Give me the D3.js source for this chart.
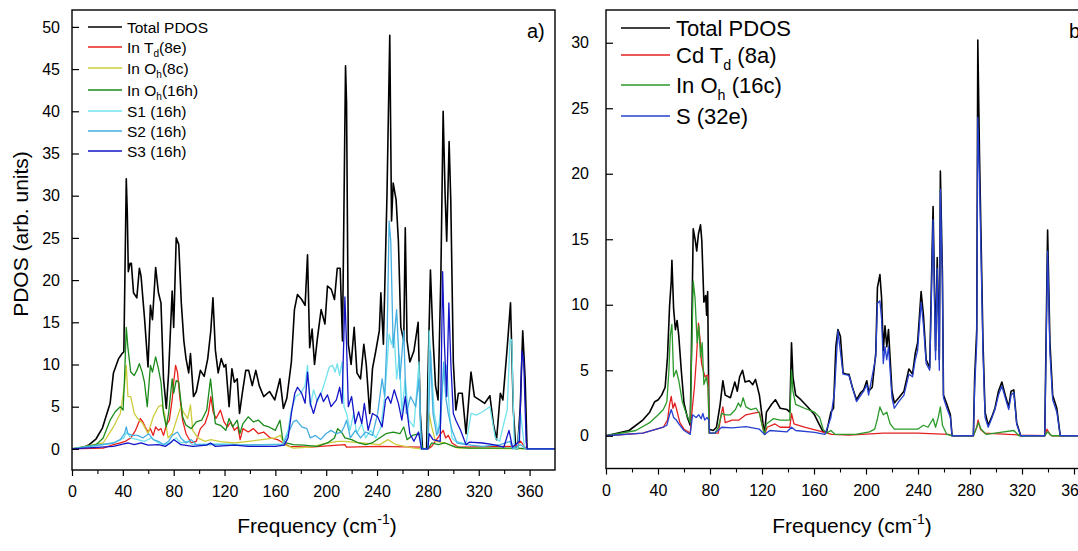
<!DOCTYPE html>
<html>
<head>
<meta charset="utf-8">
<script src="https://cdn.jsdelivr.net/npm/d3@7"></script>
<style>
  body { margin: 0; background: #fff; }
  svg { font-family: "Liberation Sans", Arial, sans-serif; }
</style>
</head>
<body>
<svg id="canvas" width="1078" height="551"></svg>
<script>
// ---- panel a) data : [frequency (cm-1), PDOS] ----
let totalA = [[0,0],[8,0.1],[13.6,0.5],[19,1.2],[24,2.5],[30,5.4],[32.6,9],[36.7,10.7],[39.4,11.3],[40.8,11.5],[42.7,32],[43.5,28],[44.3,21],[45.7,22],[46.7,22],[48.4,18.5],[51,17.9],[53,21.4],[54.3,20.5],[57,15.6],[59.8,9.7],[61.7,17],[63.3,15.3],[65.8,21.5],[68,18.5],[70,17.3],[72,8.3],[74.2,4.8],[76,9],[78.8,18.7],[80,14.4],[82,25],[84,24.2],[86,17.3],[88,12.8],[89.7,10.7],[91.8,9],[93.2,11.3],[95.6,6.2],[97.8,6.8],[101,9.3],[104,8.6],[106.8,10.7],[109.2,14],[110.9,17.9],[112.8,11.7],[115,9],[117.4,10.7],[119.6,9.7],[121,10],[123.6,5],[125.8,9.5],[127.7,7.9],[130,8.3],[131.8,4.2],[134,6.6],[136.7,9.3],[139,9.3],[141.8,7.5],[144.6,9.3],[147.3,7.5],[150.8,6.2],[155.4,6.8],[159.5,5.8],[163.6,8.3],[166.3,4.8],[169,6],[172.6,10.3],[175,16.5],[177.4,18.3],[180.7,17.7],[183.4,17],[185.3,23],[187,12],[188.9,14.2],[190.8,10],[193,13],[196,16.5],[199,14.8],[201,19.3],[204,18.9],[206.5,17.7],[208.7,21.4],[211,21.4],[212.8,12.8],[215.2,45.4],[216,41],[217.4,12.4],[219.6,10],[222,14.4],[224.2,9],[227,8.3],[229.6,12.4],[231.5,10],[234.2,4.2],[236.4,9.5],[239,11.6],[241.8,14],[243,18.5],[245,12.4],[247.8,30],[250,49],[251.4,27],[252.7,31.5],[255,29.5],[256.8,24.6],[258.7,14.4],[261,12.8],[262.2,26.2],[263.6,12.8],[265.8,10.3],[269,11.6],[272.3,15],[274,4.2],[275.8,0],[279,0],[280,8.3],[282,21.2],[284,13.2],[286,7.5],[288,5.8],[290.2,20.5],[292,40],[293.5,30.3],[294.8,24.6],[296.7,36.4],[298,29.5],[300,10.3],[302,4.6],[304,6.6],[307,6.6],[310,1.8],[313.9,9.1],[316.6,6.2],[320.6,5.8],[324.7,5.4],[328.8,6.3],[331.5,3],[334,1.1],[337,6.6],[339,5.8],[342.4,12],[345,17.3],[347.2,4.6],[349.2,0],[350.5,0],[352.7,5],[354.6,14],[356.5,8.3],[358,0],[380,0]]

let inTd8e = [[0,0],[24.5,0.1],[32.6,0.5],[38,0.7],[42,0.9],[46.2,1.3],[50,2.2],[53.8,3.6],[55.7,3.2],[57.6,2.6],[59.8,2],[61.7,2.4],[63.9,1.6],[65.8,2.6],[68,2.2],[70,2.4],[72,1.6],[74.2,2.8],[76.6,3.4],[78.8,5.8],[80,7.9],[81.5,9.9],[83,9.1],[84.8,6.2],[87,3.4],[89.7,1.8],[93.8,0.7],[97.8,0.9],[101,2.4],[104.6,3],[107.3,4.2],[109.2,6.2],[111,4.4],[113.3,3.6],[116.8,4.6],[119.6,3.2],[122.3,2.6],[125,3.2],[127.7,2.2],[130.4,2.6],[132.3,1.1],[134.5,2.4],[138.6,2],[142.7,2.4],[146.7,1.8],[150.8,2],[156,1.3],[161.7,1.1],[166.3,0.7],[171,0.3],[187.5,0.2],[214.7,0.5],[216,0.2],[242,0.3],[275,0.2],[276,0],[280,0],[283,0.3],[292,2.2],[294,1.3],[296,1.6],[299,0.7],[304,0.2],[348,0.3],[350.5,0.5],[353,0.9],[357,0.1],[358,0],[380,0]]

let inOh8c = [[0,0],[24.5,0.7],[32.6,2.6],[38,4.2],[41.3,7.5],[42.7,9.9],[44,6.2],[46.2,6.2],[49,4.2],[51.6,3.6],[55.7,3],[59.8,1.8],[63.9,3.8],[68,5],[70.7,5.2],[72.8,4.2],[75.5,1.3],[78.8,1.8],[83,3.8],[85.6,5],[88.3,4.2],[91,3.6],[93.2,5.2],[95,2.2],[99,1.3],[104.6,0.9],[109.2,1.1],[116.8,0.85],[127.7,0.7],[138.6,0.9],[149.5,1.1],[160,1.3],[164,1.6],[167,0.5],[174,0.1],[187.5,0.2],[201,0.7],[209,0.9],[214.7,0.9],[228,0.7],[242,0.5],[248.6,1.1],[255,0.5],[269,0.1],[275,0],[280,0],[281,4.2],[283,2.6],[286,0.9],[293.5,0.7],[304,0.1],[358,0],[380,0]]

let inOh16h = [[0,0],[19,0.5],[24.5,1.3],[30,3.4],[34,4.4],[38,5],[40.2,4.6],[41.3,8.3],[42.7,14.4],[44,12],[46.2,9.1],[49,8.7],[51,9.3],[53,10.1],[55.2,9.1],[57,7.9],[59.2,5],[61.7,9.9],[63.3,9.1],[65.8,10.9],[68,9.5],[70,7.9],[72,4.2],[74.2,2.6],[76,4.2],[78.8,8.3],[80,6.6],[82,8.1],[84,7.9],[87,3.8],[89.7,2.8],[93.8,2.4],[97.8,3.2],[102,3.4],[106,4.6],[109,8.3],[111,5.4],[112.8,3],[116.8,2.8],[121,2.2],[123.6,3.6],[126.4,2.6],[130,3.4],[132,1.8],[134.5,3],[138.6,3.8],[142.7,3.2],[146.7,3.4],[150.8,2.8],[155,2.6],[160,2.2],[163.6,3.4],[165.8,1.1],[168.5,0.7],[174,0.5],[182,0.45],[193,0.3],[201,0.7],[206.5,1.3],[209,2.4],[212,2],[214.7,1.3],[220,1.1],[225.5,0.7],[231,0.5],[236,0.7],[242,1.3],[247,1.8],[252.7,2],[258,1.8],[261,2.6],[263.6,1.1],[268,1.6],[273,1.8],[276,0],[280,0],[283,0.7],[288,0.5],[293.5,0.7],[301.6,0.2],[312.5,0.1],[350.5,0.1],[358.7,0],[380,0]]

let s1 = [[0,0],[32.6,0.7],[40.8,1.3],[43,2],[46.2,1.3],[51.6,1.1],[57,0.9],[62.5,1.3],[68,0.7],[73.4,0.5],[78.8,0.9],[82,1.3],[85.6,0.7],[91,0.9],[95,0.5],[106,0.6],[119.6,0.6],[133,0.5],[149.5,0.5],[165.8,0.6],[170,2.2],[172.6,4.6],[176,6.2],[180,6.6],[183.4,7.5],[185.3,9.9],[187.5,5],[190,7],[193,5.6],[197,7],[199.7,8.3],[202.4,9.7],[205,9.9],[207,9.1],[208.7,10.1],[210.6,8.7],[212.5,10.3],[214,5],[216,4.2],[218.8,2.2],[221.5,4.2],[224,1.8],[228,3],[231,1.3],[235,2.2],[239,1.3],[243,2.6],[246,6.2],[248,10.3],[249.5,13.6],[251.4,12.4],[253.5,13.6],[255.4,8.3],[257.6,11.1],[259.5,4.2],[262.2,8.3],[265,3.4],[269,2.6],[273,10.3],[274.5,0],[280,0],[281,14],[285,4.2],[288,1.8],[290.2,5],[292.4,9.1],[294.8,9.9],[297,4.2],[299,1.3],[301.6,0.9],[307,0.7],[310,0.6],[314,4.2],[318,4],[323,4.4],[328.8,5],[333,1.3],[336.4,0.9],[339.7,3],[342.4,4.6],[344.6,13],[346,12.9],[348,0],[350.5,0],[353,4.2],[356,0.1],[358,0],[380,0]]

let s2 = [[0,0],[32.6,0.7],[38,1.1],[41.3,1.8],[42.7,2.6],[44,1.8],[47.5,1.6],[51.6,1.6],[55.7,1.3],[60.3,1.8],[63.9,1.1],[68,0.9],[72,0.5],[76,0.9],[78.8,1.6],[83,2],[85.6,1.3],[89.7,0.7],[93.8,1.1],[97.8,0.5],[106,0.5],[133,0.45],[165.8,0.5],[170,1.8],[174,3.2],[176.6,3.4],[180.7,2.6],[184.8,2.4],[187.5,1.3],[191.6,1.6],[195.6,1.1],[199.7,1.8],[203.8,2.2],[208,1.8],[212,2],[214,2.6],[216,3.4],[219,1.3],[223,2.2],[227,1.3],[231,2],[236.4,1.6],[240.5,4.2],[244,8.3],[246,6.2],[248,14],[249.5,27],[250.8,24.6],[252.7,12],[255.4,16.5],[258,8.3],[261,14],[263,4.2],[266.3,6.2],[270.4,5],[273,8.3],[275,0],[280,0],[282,11.6],[284,4.2],[287,1.6],[290,3],[292.4,10.3],[294,6.2],[296,4.2],[299,2.2],[303,0.7],[310,0.5],[323,0.3],[337,0.5],[344.6,0.9],[346.5,0],[353,0.5],[357,0],[380,0]]

let s3 = [[0,0],[32.6,0.3],[40.8,0.6],[44,0.7],[49,0.5],[54.3,0.7],[59.8,0.45],[68,0.5],[73.4,0.3],[77.4,0.7],[80,1.1],[82,0.9],[85.6,0.5],[95,0.3],[106,0.45],[109,0.7],[112.8,0.3],[127.7,0.45],[138.6,0.3],[160,0.3],[167,0.45],[170,1.3],[172.6,4.2],[175.3,6.6],[177.4,7.3],[180.7,6.6],[183.4,5.4],[185.3,9.1],[187.5,5.4],[190,4.2],[193,5.8],[195.6,6.6],[197.8,5.6],[201,6.4],[203.8,5],[208,5.8],[210.6,7.3],[212.5,5.4],[214.7,18],[216,12.4],[217.4,5],[220,6.2],[222.8,3],[225.5,4.4],[228,3],[230,5.4],[233,2.2],[236.4,4.2],[240.5,3.8],[244,2.6],[246.7,5.8],[248.6,6.2],[250.8,5.4],[253.5,7],[256.8,5.4],[259.5,3.4],[262.2,6.2],[265.8,1.8],[269,0.9],[272.6,2],[275,0],[280,0],[281,1.8],[284,1.1],[289.7,0.9],[291.6,21],[293,12.4],[294.8,6.2],[296.5,17.3],[298,10.3],[300,4.2],[302,3.4],[305.7,2.2],[310,0.5],[312.5,0.8],[323,0.7],[331.5,0.5],[339.7,0.2],[343.8,2.2],[346.5,0.2],[352,0.9],[354,11.6],[355.4,10.3],[357.3,0.9],[358,0],[380,0]]

// ---- panel b) data ----
let totalB = [[0,0],[17.7,0.4],[28.3,1.2],[33.6,1.8],[37.5,2.6],[40.2,2.75],[42.8,3.1],[45.5,3.7],[47.3,6],[48.9,9.9],[50.2,11.8],[50.7,13.4],[52,9.7],[53.4,8.1],[54.7,8.8],[56,7.6],[57.9,5],[60,2.5],[62.6,1.4],[64.8,0.8],[65.8,7.1],[67.1,15.8],[68.7,14.9],[69.8,14.1],[71.1,15.4],[72.7,16.1],[73.7,14.9],[75.3,10.2],[76.7,10.7],[77.4,9.2],[78.2,11],[79.3,0.5],[82.5,0.4],[85,0.65],[87.8,2.4],[89.9,4.2],[91.7,3.1],[95.7,2.9],[99.1,4.1],[101,3.4],[102.8,4.5],[105,5],[107,4.1],[110.2,4.2],[112.9,3.9],[115,4.3],[118,3.1],[120.8,0.9],[122,0.1],[123.4,1.8],[127.4,2.4],[130.3,2.75],[134,2.1],[139.3,2],[141.4,1.8],[142.7,7.1],[143.8,4.5],[145.9,3.1],[149.9,2.75],[155.2,2.2],[160.4,1.6],[164.4,0.8],[167,0.3],[169.7,0.3],[173,1.8],[175,2.1],[176.8,6.8],[178.4,8.1],[180.3,7.6],[182.4,4.8],[184.8,4.7],[186.9,4.7],[189.5,3.7],[192.7,2.75],[196,3.3],[198.2,3.5],[200.6,4.2],[202,3.4],[204.8,3.7],[207.5,6.3],[208.8,11.3],[210.7,12.3],[212,10.5],[213.3,6.5],[214.6,8.4],[216,6.8],[217.3,8.1],[220,3.4],[221.8,2.5],[225.2,2.9],[229.2,3.4],[233,5.1],[235.8,4.7],[237.9,6.3],[239.7,7.1],[242.4,11],[244.2,9.2],[246.3,5.8],[249,5.2],[250.3,11.5],[251.6,17.5],[253.5,6.5],[254.8,13.6],[256.4,5.8],[257.2,20.2],[258.8,12.3],[259.6,3.1],[262.2,2.4],[264.9,1.6],[266.2,0],[282.6,0],[283.6,4.5],[285.2,8.1],[286,30.2],[287.3,21.5],[290,7.1],[291.6,1.8],[294,0.8],[296.6,1.4],[299.2,2.1],[301.9,3.4],[304.5,4.1],[307.1,3.1],[309.8,2.2],[311.6,3.4],[313.7,3.5],[315.9,1],[319,0],[337.5,0],[338.3,5.8],[339.7,15.7],[341.5,7.1],[343.6,3.1],[346.8,2.1],[349.4,0],[380,0]]

let cdTd8a = [[0,0],[28.3,0.2],[38.9,0.5],[44.1,0.65],[47.3,1.2],[48.9,2.4],[50.2,3],[51.5,2.1],[52.9,2.5],[54.1,2.1],[56.8,1],[60,0.5],[64.8,0.2],[66.1,1.8],[68,3.7],[69.5,5.8],[71.1,8.6],[72.4,7.3],[73.5,5.5],[74.8,5],[76.1,4.5],[77.4,4.6],[78.5,4.6],[79.3,0.2],[86.4,0.2],[88.5,1.6],[89.9,2.2],[91.7,1],[97,1.2],[102.3,1.2],[107.6,1.6],[112.9,1.7],[118,1.8],[120.2,0.8],[122,0.1],[124,0.65],[130,0.9],[134,0.65],[141.4,0.65],[142.7,1.7],[144.6,0.9],[152.6,0.65],[163,0.4],[173.7,0.1],[187,0.05],[213.3,0.2],[239.7,0.2],[263.5,0.1],[266.2,0],[282.6,0],[285.2,0.65],[286.2,1.2],[288,0.5],[291.2,0.2],[319,0.05],[337.5,0],[339.2,0.5],[341.5,0.1],[343,0],[380,0]]

let inOh16c = [[0,0],[23,0.4],[33.6,1],[40.2,1.6],[44.1,2],[46.8,2.6],[48.4,5],[49.4,7.6],[50.7,8.5],[52,4.5],[54.1,5],[56,4.2],[58.7,2.6],[61.3,1.8],[64.8,1],[65.8,5.8],[67.1,11.8],[68.5,10.5],[70.1,7.1],[71.4,8.4],[72.7,6],[74,7.1],[75.3,3.9],[77.2,4.5],[78.5,3.7],[79.3,0.2],[83.8,0.2],[86.4,0.65],[89,1.7],[91.7,1.6],[95.7,1.6],[99.6,2],[101.8,2.5],[103.6,2.2],[105.5,2.9],[107.6,2.2],[111.5,2],[115.5,2.1],[118,1.7],[120.8,0.5],[122,0.1],[123.4,0.9],[128.7,1.3],[134,1.2],[141.4,1.2],[142.7,5],[143.8,3.4],[145.9,2.4],[152.6,2.1],[160.4,1.8],[164.4,1.4],[167,0.5],[169.7,0.2],[173,0.4],[176.3,0.1],[192,0.1],[202.7,0.3],[206.7,0.5],[208.8,1.3],[210.7,2.2],[213.3,1.6],[216,1.8],[218.6,0.9],[221.8,0.5],[239.7,0.5],[244.2,0.8],[247.7,0.65],[251.6,1.3],[253.5,0.65],[255.6,1.4],[257.2,2.2],[258.8,0.8],[262.2,0.1],[266.2,0],[282.6,0],[285.2,0.65],[286.5,1],[288.6,0.5],[292.6,0.1],[303.2,0.25],[313.7,0.4],[317.7,0],[337.5,0],[339.7,0.3],[342.8,0],[380,0]]

let s32e = [[0,0],[28.3,0.2],[38.9,0.5],[44.1,0.65],[46.8,0.8],[48.9,1.6],[50.2,2],[52,1.4],[54.1,1.2],[56,0.9],[60,0.4],[64.8,0.1],[66.6,1.6],[69.3,1.4],[71.4,1.6],[73.2,1.3],[74.5,1.7],[75.9,1.2],[77.7,1.4],[79,1.2],[79.8,0.2],[83.8,0.2],[89,0.65],[97,0.6],[107.6,0.7],[118,0.5],[122,0.1],[126,0.4],[139.3,0.3],[142.7,0.65],[145.9,0.4],[160.4,0.25],[168.4,0.1],[173,1.4],[175.8,3.4],[178.4,8],[182.4,4.7],[186.9,4.6],[192.7,2.6],[198.2,3.4],[200.6,3.9],[202,3.1],[207.5,6],[208.8,10.1],[210.7,10.3],[212,8.9],[213.3,5.5],[214.6,6.8],[216,5.8],[217.3,6.8],[220,2.9],[221.8,2.1],[225.2,2.6],[229.2,3.1],[233,4.7],[235.8,4.5],[237.9,5.8],[239.7,6.5],[242.4,10.2],[244.2,8.4],[246.3,5.5],[249,5],[250.3,10.5],[251.6,16.5],[253.5,5.8],[254.8,12.8],[256.4,5],[257.2,18.8],[258.8,11.5],[259.6,2.9],[262.2,2.1],[264.9,1.4],[266.2,0],[282.6,0],[283.6,3.7],[285.2,7.1],[286,24.3],[287.3,19.6],[290,6.3],[291.6,1.4],[294,0.65],[296.6,1.3],[299.2,2],[301.9,3.1],[304.5,3.8],[307.1,2.9],[309.8,2],[311.6,3.1],[313.7,3.3],[315.9,0.9],[319,0],[337.5,0],[338.3,5],[339.7,14.1],[341.5,6.3],[343.6,2.75],[346.8,1.8],[349.4,0],[380,0]]

let xTicks = [0, 40, 80, 120, 160, 200, 240, 280, 320, 360]
let yTicksA = [0, 5, 10, 15, 20, 25, 30, 35, 40, 45, 50]
let yTicksB = [0, 5, 10, 15, 20, 25, 30]

let legendA = [
  { name: 'Total PDOS', sub: null, tail: '', data: totalA, color: '#000000', w: 1.6 },
  { name: 'In T', sub: 'd', tail: '(8e)', data: inTd8e, color: '#e8201c', w: 1.3 },
  { name: 'In O', sub: 'h', tail: '(8c)', data: inOh8c, color: '#cdcd3c', w: 1.3 },
  { name: 'In O', sub: 'h', tail: '(16h)', data: inOh16h, color: '#1a8a1a', w: 1.3 },
  { name: 'S1 (16h)', sub: null, tail: '', data: s1, color: '#70e2ee', w: 1.3 },
  { name: 'S2 (16h)', sub: null, tail: '', data: s2, color: '#45aee0', w: 1.3 },
  { name: 'S3 (16h)', sub: null, tail: '', data: s3, color: '#1515c8', w: 1.3 }
]
let legendB = [
  { name: 'Total PDOS', sub: null, tail: '', data: totalB, color: '#000000', w: 1.6 },
  { name: 'Cd T', sub: 'd', tail: ' (8a)', data: cdTd8a, color: '#e32020', w: 1.3 },
  { name: 'In O', sub: 'h', tail: ' (16c)', data: inOh16c, color: '#2a9a2a', w: 1.3 },
  { name: 'S (32e)', sub: null, tail: '', data: s32e, color: '#2640d0', w: 1.3 }
]

let canvas = d3.select('#canvas')

let drawPanel = (cfg) => {
  let x = d3.scaleLinear().domain([0, 380]).range([cfg.left, cfg.right])
  let y = d3.scaleLinear().domain(cfg.yDomain).range([cfg.bottom, cfg.top])
  let g = canvas.append('g')

  let clipId = 'clip-' + cfg.id
  g.append('clipPath').attr('id', clipId)
    .append('rect')
    .attr('x', cfg.left).attr('y', cfg.top)
    .attr('width', cfg.right - cfg.left).attr('height', cfg.bottom - cfg.top)

  let line = d3.line().x(d => x(d[0])).y(d => y(d[1]))
  g.append('g').attr('clip-path', 'url(#' + clipId + ')')
    .selectAll('path')
    .data(cfg.series)
    .enter()
    .append('path')
    .attr('d', s => line(s.data))
    .attr('fill', 'none')
    .attr('stroke', s => s.color)
    .attr('stroke-width', s => s.w)
    .attr('stroke-linejoin', 'round')

  // frame
  g.append('rect')
    .attr('x', cfg.left).attr('y', cfg.top)
    .attr('width', cfg.right - cfg.left).attr('height', cfg.bottom - cfg.top)
    .attr('fill', 'none').attr('stroke', '#000').attr('stroke-width', 1.4)

  // x axis: major + minor ticks, outward
  let xAxis = d3.axisBottom(x).tickValues(xTicks).tickSize(6).tickSizeOuter(0).tickPadding(10)
  let gx = g.append('g').attr('transform', 'translate(0,' + cfg.bottom + ')').call(xAxis)
  gx.select('.domain').remove()
  gx.selectAll('text').attr('font-size', 16).attr('fill', '#000')
    .attr('font-family', '"Liberation Sans", Arial, sans-serif')
  gx.selectAll('line').attr('stroke-width', 1.2)
  let xMinor = d3.axisBottom(x).tickValues(d3.range(20, 380, 40)).tickSize(4).tickFormat('')
  let gxm = g.append('g').attr('transform', 'translate(0,' + cfg.bottom + ')').call(xMinor)
  gxm.select('.domain').remove()
  gxm.selectAll('line').attr('stroke-width', 1.1)

  // y axis: ticks inward
  let yAxis = d3.axisLeft(y).tickValues(cfg.yTicks).tickSize(-7).tickPadding(cfg.yPad)
  let gy = g.append('g').attr('transform', 'translate(' + cfg.left + ',0)').call(yAxis)
  gy.select('.domain').remove()
  gy.selectAll('text').attr('font-size', 16).attr('fill', '#000')
    .attr('font-family', '"Liberation Sans", Arial, sans-serif')
  gy.selectAll('line').attr('stroke-width', 1.2)

  // x title
  let xt = g.append('text')
    .attr('x', cfg.xTitleX)
    .attr('y', 533)
    .attr('text-anchor', 'middle')
    .attr('font-size', 21)
    .text('Frequency (cm')
  xt.append('tspan').attr('font-size', 14).attr('dy', -9).text('-1')
  xt.append('tspan').attr('dy', 9).text(')')

  // panel label
  g.append('text').attr('x', cfg.labelX).attr('y', 38)
    .attr('font-size', 20).text(cfg.label)

  // legend
  let lg = g.append('g')
  cfg.series.forEach((s, i) => {
    let ly = cfg.legendY[i]
    lg.append('line')
      .attr('x1', cfg.legX1).attr('x2', cfg.legX2)
      .attr('y1', ly).attr('y2', ly)
      .attr('stroke', s.color).attr('stroke-width', 1.6)
    let t = lg.append('text')
      .attr('x', cfg.legTextX).attr('y', ly + cfg.legFont * 0.36)
      .attr('font-size', cfg.legFont)
      .text(s.name)
    if (s.sub) {
      t.append('tspan').attr('font-size', cfg.legFont * 0.65)
        .attr('dy', cfg.legFont * 0.3).text(s.sub)
      t.append('tspan').attr('dy', -cfg.legFont * 0.3).text(s.tail)
    }
  })
}

drawPanel({
  id: 'a', left: 72, right: 555, top: 10, bottom: 470,
  yDomain: [-2.5, 52], yTicks: yTicksA, yPad: 12,
  series: legendA, xTitleX: 317,
  label: 'a)', labelX: 527,
  legendY: [27, 47, 68, 90, 111, 131, 151],
  legX1: 88, legX2: 122, legTextX: 127, legFont: 15.5
})

drawPanel({
  id: 'b', left: 606, right: 1100, top: 10, bottom: 468.5,
  yDomain: [-2.5, 32.5], yTicks: yTicksB, yPad: 17,
  series: legendB, xTitleX: 852,
  label: 'b)', labelX: 1069,
  legendY: [28, 55, 85, 116],
  legX1: 621, legX2: 670, legTextX: 676, legFont: 22
})

// y title (left panel only)
canvas.append('text')
  .attr('transform', 'translate(28,234) rotate(-90)')
  .attr('text-anchor', 'middle')
  .attr('font-size', 21)
  .text('PDOS (arb. units)')
</script>
</body>
</html>
